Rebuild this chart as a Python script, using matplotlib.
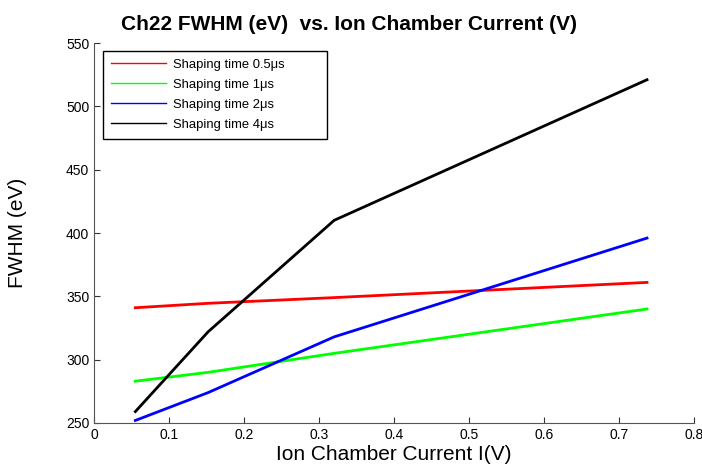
import matplotlib
matplotlib.use("Agg")
import matplotlib.pyplot as plt

plt.rcParams['font.family'] = ['Liberation Sans', 'DejaVu Sans']

# ion chamber current (V)
current = [0.055, 0.152, 0.320, 0.737]

# FWHM (eV) per shaping time
fwhm_05us = [341, 344.5, 349, 361]
fwhm_1us = [283, 290, 305, 340]
fwhm_2us = [252, 274, 318, 396]
fwhm_4us = [259, 322, 410, 521]

labels = ['Shaping time 0.5\u03bcs', 'Shaping time 1\u03bcs',
          'Shaping time 2\u03bcs', 'Shaping time 4\u03bcs']
colors = ['#ff0000', '#00ff00', '#0000ff', '#000000']

xticks = [0, 0.1, 0.2, 0.3, 0.4, 0.5, 0.6, 0.7, 0.8]
xticklabels = ['0', '0.1', '0.2', '0.3', '0.4', '0.5', '0.6', '0.7', '0.8']
yticks = [250, 300, 350, 400, 450, 500, 550]

fig = plt.figure(figsize=(7.02, 4.70), dpi=100)
ax = fig.add_axes([0.134, 0.1, 0.855, 0.8085])

series = [fwhm_05us, fwhm_1us, fwhm_2us, fwhm_4us]
for ys, c, lab in zip(series, colors, labels):
    ax.plot(current, ys, color=c, lw=2, label=lab)

ax.set_xlim(0, 0.8)
ax.set_ylim(250, 550)
ax.set_xticks(xticks)
ax.set_xticklabels(xticklabels)
ax.set_yticks(yticks)
ax.tick_params(direction='in', labelsize=10, length=4, width=0.8, colors='#333333',
               labelcolor='black')
for s in ['top', 'right']:
    ax.spines[s].set_visible(False)
for s in ['left', 'bottom']:
    ax.spines[s].set_color('#555555')

ax.set_xlabel('Ion Chamber Current I(V)', fontsize=15, labelpad=2)
ax.set_ylabel('FWHM (eV)', fontsize=15, labelpad=28)
fig.suptitle('Ch22 FWHM (eV)  vs. Ion Chamber Current (V)', fontsize=15,
             fontweight='bold', x=0.497, y=0.968)

# legend box stretched to the reference width
leg = ax.legend(loc='upper left', bbox_to_anchor=(0.015, 0.0, 0.373, 0.979),
                mode='expand', borderaxespad=0,
                fontsize=9.4, handlelength=4.2, handletextpad=0.55, labelspacing=0.6,
                borderpad=0.6, fancybox=False, framealpha=1, edgecolor='black')
leg.get_frame().set_linewidth(1)
for line in leg.get_lines():
    line.set_linewidth(1)

fig.savefig('out.png', dpi=100)
